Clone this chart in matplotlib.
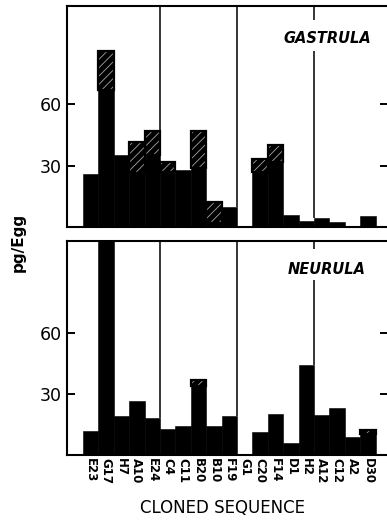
import matplotlib
matplotlib.use("Agg")
import matplotlib.pyplot as plt
import numpy as np

# cloned sequences, in the order they appear along the x axis
clones = ["E23", "G17", "H7", "A10", "E24", "C4", "C11", "B20", "B10", "F19",
          "G1", "C20", "F14", "D1", "H2", "A12", "C12", "A2", "D30"]

# pg/egg, total bar height and the solid (unhatched) part
gastrula_total = [26, 86, 35, 41.5, 47, 32, 28, 47, 12, 10,
                  0, 33, 40, 6, 3, 4.5, 2.5, 0.7, 5.5]
gastrula_solid = [26, 67, 35, 26.5, 35, 27, 28, 29, 2, 10,
                  0, 27, 32, 6, 3, 4.5, 2.5, 0.7, 5.5]

neurula_total = [12, 110, 19, 26.5, 18, 13, 14, 37, 14, 19,
                 0, 11.5, 20, 5.7, 44, 19.5, 23, 9, 12.5]
neurula_solid = [12, 110, 19, 26.5, 18, 13, 14, 34, 14, 19,
                 0, 11.5, 20, 5.7, 44, 19.5, 23, 9, 10.5]

yticks = [30, 60]
group_edges = [5, 10, 15]

plt.rcParams["hatch.linewidth"] = 0.6

W, H = 387, 520
fig = plt.figure(figsize=(W / 100, H / 100), dpi=100)

ax_top = fig.add_axes([67 / W, (H - 227) / H, 321 / W, 221 / H])
ax_bot = fig.add_axes([67 / W, (H - 455) / H, 321 / W, 214 / H])

x = np.arange(len(clones))


def draw_panel(ax, total, solid, ylim, label, label_y):
    total = np.array(total, dtype=float)
    solid = np.array(solid, dtype=float)
    ax.bar(x, solid, width=1, align="edge", color="black",
           edgecolor="black", linewidth=0.4, zorder=2)
    top = total - solid
    ax.bar(x, top, bottom=solid, width=1, align="edge",
           facecolor="black", edgecolor="0.65", hatch="////",
           linewidth=0, zorder=2)
    # black rim around the hatched part
    has = top > 0
    ax.bar(x[has], top[has], bottom=solid[has], width=1, align="edge",
           facecolor="none", edgecolor="black", linewidth=1.6, zorder=3)
    ax.set_xlim(-1.04, 19.8)
    ax.set_ylim(0, ylim)

    # group separators run from the top down to the taller neighbour
    for e in group_edges:
        low = max(total[e - 1], total[e])
        if e == 15:
            ax.vlines(e, low, 86, color="black", lw=1.1, zorder=1)
            ax.vlines(e, 101, ylim, color="black", lw=1.1, zorder=1)
        else:
            ax.vlines(e, low, ylim, color="black", lw=1.1, zorder=1)

    ax.text(0.81, label_y, label, transform=ax.transAxes, ha="center",
            va="center", fontsize=10.5, fontweight="bold", style="italic")

    for side in ["left", "top", "bottom"]:
        ax.spines[side].set_linewidth(1.5)
    ax.spines["right"].set_visible(False)
    ax.set_yticks(yticks)
    ax.tick_params(axis="y", direction="in", length=5.5, width=1.4,
                   labelsize=12.5, pad=4, right=True)
    ax.tick_params(axis="x", length=0)


draw_panel(ax_top, gastrula_total, gastrula_solid, 108, "GASTRULA", 0.855)
draw_panel(ax_bot, neurula_total, neurula_solid, 105, "NEURULA", 0.869)

ax_top.set_xticks([])
ax_bot.set_xticks(x + 0.5)
ax_bot.set_xticklabels(clones, rotation=270, fontsize=8.5, fontweight="bold",
                       va="top", ha="center")
ax_bot.tick_params(axis="x", pad=2)

fig.text(18 / W, 1 - 242 / H, "pg/Egg", rotation=90, ha="center",
         va="center", fontsize=11, fontweight="bold")
fig.text(222 / W, 1 - 508 / H, "CLONED SEQUENCE", ha="center",
         va="center", fontsize=12)

fig.savefig("out.png", dpi=100)
